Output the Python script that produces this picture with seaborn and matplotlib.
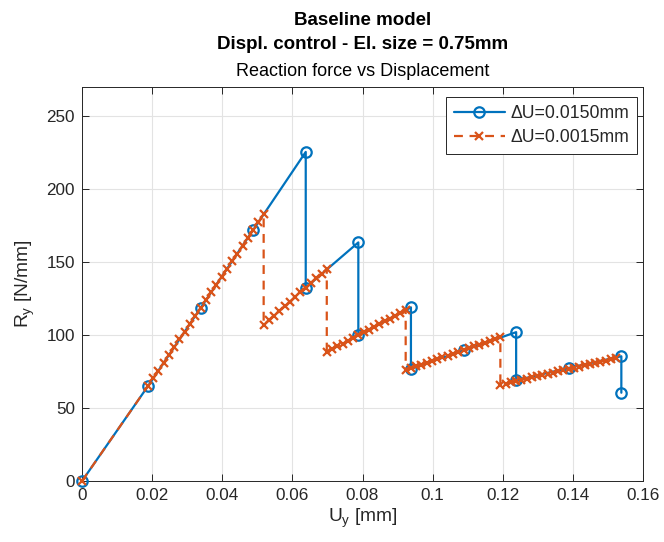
import matplotlib
matplotlib.use("Agg")
import matplotlib.pyplot as plt
import seaborn as sns
import pandas as pd

# Coarse increment run (dU = 0.0150 mm)
u_coarse = [0.0, 0.0188, 0.0338, 0.0488, 0.0638, 0.0638, 0.0788, 0.0788,
            0.0938, 0.0938, 0.1088, 0.1238, 0.1238, 0.1388, 0.1538, 0.1538]
r_coarse = [0.0, 65.0, 118.5, 172.0, 225.5, 132.5, 163.5, 100.0,
            119.0, 77.0, 89.5, 102.0, 69.0, 77.5, 85.5, 60.5]

# Fine increment run (dU = 0.0015 mm)
u_fine = [
    0.0,
    0.0188, 0.0203, 0.0218, 0.0233, 0.0248, 0.0263, 0.0278, 0.0293, 0.0308,
    0.0323, 0.0338, 0.0353, 0.0368, 0.0383, 0.0398, 0.0413, 0.0428, 0.0443,
    0.0458, 0.0473, 0.0488, 0.0503, 0.0518,
    0.0518, 0.0533, 0.0548, 0.0563, 0.0578, 0.0593, 0.0608, 0.0623, 0.0638,
    0.0653, 0.0668, 0.0683, 0.0698,
    0.0698, 0.0713, 0.0728, 0.0743, 0.0758, 0.0773, 0.0788, 0.0803, 0.0818,
    0.0833, 0.0848, 0.0863, 0.0878, 0.0893, 0.0908, 0.0923,
    0.0923, 0.0938, 0.0953, 0.0968, 0.0983, 0.0998, 0.1013, 0.1028, 0.1043,
    0.1058, 0.1073, 0.1088, 0.1103, 0.1118, 0.1133, 0.1148, 0.1163, 0.1178,
    0.1193,
    0.1193, 0.1208, 0.1223, 0.1238, 0.1253, 0.1268, 0.1283, 0.1298, 0.1313,
    0.1328, 0.1343, 0.1358, 0.1373, 0.1388, 0.1403, 0.1418, 0.1433, 0.1448,
    0.1463, 0.1478, 0.1493, 0.1508, 0.1523,
]
r_fine = [
    0.0,
    65.0, 70.3, 75.7, 81.0, 86.4, 91.7, 97.1, 102.4, 107.8,
    113.1, 118.5, 123.8, 129.2, 134.5, 139.9, 145.2, 150.6, 155.9,
    161.3, 166.6, 172.0, 177.3, 182.7,
    107.0, 110.2, 113.4, 116.6, 119.8, 123.0, 126.1, 129.3, 132.5,
    135.7, 138.9, 142.1, 145.3,
    88.5, 90.4, 92.3, 94.2, 96.1, 98.0, 99.9, 101.8, 103.7,
    105.6, 107.5, 109.4, 111.3, 113.2, 115.1, 117.0,
    76.0, 77.3, 78.5, 79.8, 81.0, 82.3, 83.5, 84.8, 86.0,
    87.3, 88.5, 89.8, 91.0, 92.3, 93.5, 94.8, 96.0, 97.3,
    98.5,
    66.0, 66.8, 67.7, 68.5, 69.3, 70.1, 71.0, 71.8, 72.6,
    73.4, 74.3, 75.1, 75.9, 76.7, 77.6, 78.4, 79.2, 80.0,
    80.9, 81.7, 82.5, 83.3, 84.2,
]

labels = ["\u0394U=0.0150mm", "\u0394U=0.0015mm"]
x_ticks = [0, 0.02, 0.04, 0.06, 0.08, 0.1, 0.12, 0.14, 0.16]
x_tick_labels = ["0", "0.02", "0.04", "0.06", "0.08", "0.1", "0.12", "0.14", "0.16"]
y_ticks = [0, 50, 100, 150, 200, 250]

df_coarse = pd.DataFrame({"U": u_coarse, "R": r_coarse})
df_fine = pd.DataFrame({"U": u_fine, "R": r_fine})

sns.set_theme(style="whitegrid")
plt.rcParams["font.family"] = ["Liberation Sans", "DejaVu Sans"]
plt.rcParams["mathtext.fontset"] = "custom"
plt.rcParams["mathtext.rm"] = "Liberation Sans"
plt.rcParams["mathtext.it"] = "Liberation Sans"

blue = "#0072BD"
orange = "#D95319"
ink = "#262626"

fig = plt.figure(figsize=(6.64, 5.42), dpi=100)
ax = fig.add_axes([0.1235, 0.1125, 0.845, 0.727])

sns.lineplot(data=df_coarse, x="U", y="R", sort=False, estimator=None, ax=ax,
             color=blue, linewidth=1.6, marker="o", markersize=7.5,
             markerfacecolor="none", markeredgecolor=blue, markeredgewidth=1.6,
             label=labels[0], clip_on=False, zorder=3)
sns.lineplot(data=df_fine, x="U", y="R", sort=False, estimator=None, ax=ax,
             color=orange, linewidth=1.6, linestyle=(0, (4, 3)), marker="x",
             markersize=6, markeredgecolor=orange, markeredgewidth=1.6,
             label=labels[1], clip_on=False, zorder=4)

ax.set_xlim(0, 0.16)
ax.set_ylim(0, 270)
ax.set_xticks(x_ticks)
ax.set_xticklabels(x_tick_labels)
ax.set_yticks(y_ticks)

ax.set_facecolor("white")
ax.grid(True, color="#e3e3e3", linewidth=0.8)
ax.set_axisbelow(True)
for side in ["left", "bottom", "top", "right"]:
    ax.spines[side].set_visible(True)
    ax.spines[side].set_color(ink)
    ax.spines[side].set_linewidth(0.7)
    ax.spines[side].set_zorder(2)
ax.tick_params(axis="both", direction="in", length=5, width=0.7,
               colors=ink, labelsize=12.3, pad=5,
               top=True, right=True, bottom=True, left=True,
               labeltop=False, labelright=False)

ax.set_xlabel(r"U$_\mathregular{y}$ [mm]", fontsize=13.8, color=ink, labelpad=3)
ax.set_ylabel(r"R$_\mathregular{y}$ [N/mm]", fontsize=13.8, color=ink, labelpad=7)

# Titles are centred over the plotting area
title_x = 0.1235 + 0.845 / 2
fig.text(title_x, 0.962, "Baseline model", ha="center", va="center",
         fontsize=13.5, fontweight="bold", color="black")
fig.text(title_x, 0.917, "Displ. control - El. size = 0.75mm", ha="center", va="center",
         fontsize=13.5, fontweight="bold", color="black")
fig.text(title_x, 0.868, "Reaction force vs Displacement", ha="center", va="center",
         fontsize=13, color="black")

leg = ax.legend(loc="upper right", bbox_to_anchor=(637 / 664, 1 - 97 / 542),
                bbox_transform=fig.transFigure, borderaxespad=0,
                fontsize=12.7, frameon=True, fancybox=False,
                framealpha=1, edgecolor=ink, borderpad=0.45,
                handlelength=2.9, handletextpad=0.3, labelspacing=0.4)
leg.get_frame().set_linewidth(0.7)

fig.savefig("out.png", dpi=100, facecolor="white")
